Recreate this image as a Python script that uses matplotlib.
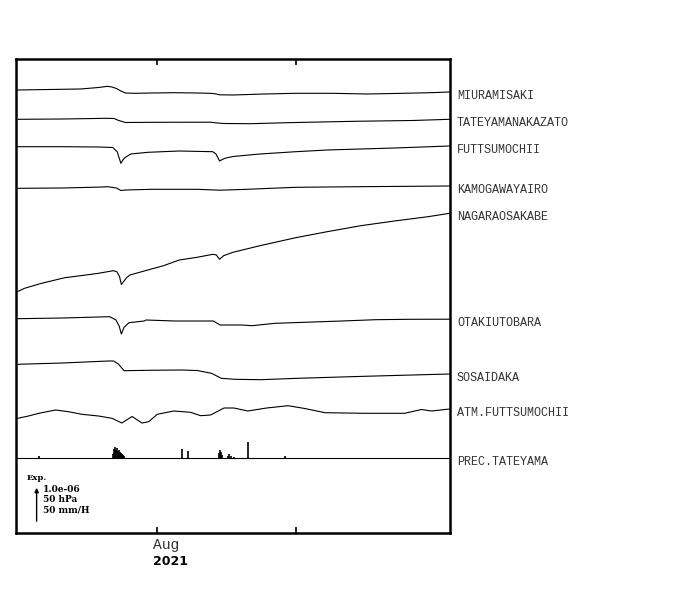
import matplotlib
matplotlib.use("Agg")
import matplotlib.pyplot as plt
import matplotlib.transforms as mtransforms

# days since 2021-07-01, values in plot units (upward positive, relative to start)
miura_t = [0, 7, 14, 18, 20, 21, 22, 23, 24, 26, 30, 35, 40, 43, 44, 45, 48, 55, 62, 70, 78, 86, 92, 96.3]
miura_v = [0, 0.5, 1, 2.5, 3.7, 3, 1.5, -1, -3, -3.3, -3, -2.7, -3, -3.3, -3.8, -4.8, -5, -4, -3.3, -3.3, -4, -3.3, -2.7, -2]

tate_t = [0, 10, 20, 21.5, 22.5, 24, 30, 43, 44.5, 46, 52, 60, 75, 88, 96.3]
tate_v = [0, 0.3, 1, 0.8, -1.2, -3.2, -3, -2.9, -3.7, -4.2, -4.4, -3.4, -2, -1.2, 0]

futt_t = [0, 10, 18, 21.2, 22.2, 22.6, 23.0, 23.5, 24.0, 25.2, 29, 36, 43.5, 44.2, 45.0, 45.6, 46.2, 48, 54, 62, 69, 76.5, 84, 96.3]
futt_v = [0, 0, -0.3, -0.8, -5.3, -11.3, -16.6, -12.8, -10.6, -7.3, -5.6, -4.3, -5, -7.3, -14.3, -12.8, -11.6, -9.8, -7.3, -5, -3.3, -2.3, -1.3, 0.7]

kamo_t = [0, 10, 19, 20, 22, 23, 24, 30, 40, 45, 50, 62, 76, 96.3]
kamo_v = [0, 0.3, 1.3, 1.6, 0.3, -2.2, -1.7, -1, -1, -1.9, -1.2, 1, 1.6, 2.3]

naga_t = [0, 1.5, 5.3, 10.5, 14, 18, 21.3, 22.1, 22.7, 23.1, 23.7, 24.3, 25, 29, 32.5, 36, 40, 43.5, 44.3, 45, 45.9, 48, 54, 62, 69, 76.5, 84, 91.5, 96.3]
naga_v = [0, 3.2, 8.2, 13.8, 15.8, 18.2, 20.8, 19.8, 14.8, 7, 10.5, 14, 16.5, 21.5, 25.8, 31.5, 34.2, 37.2, 36.5, 32.2, 35.8, 39.2, 45.8, 53.8, 59.8, 65.8, 70.5, 74.8, 78.2]

otak_t = [0, 10, 20.5, 21.9, 22.6, 23.1, 23.7, 24.8, 28.2, 28.6, 35, 43.6, 45.1, 50, 52.2, 57.4, 72.3, 79.8, 87.2, 96.3]
otak_v = [0, 0.7, 2, -1.3, -7.3, -15.3, -8.6, -4, -2.3, -1.3, -2.3, -2.3, -6.3, -6.3, -7, -4.6, -2.3, -1, -0.6, -0.5]

sosa_t = [0, 10, 20.2, 21.4, 22.5, 23.7, 29, 36.5, 40, 43.2, 45.4, 48.4, 54.2, 62.4, 77.3, 96.3]
sosa_v = [0, 1.3, 3.3, 3.3, 0, -6.4, -6, -5.7, -6.2, -9, -14, -15, -15.4, -14, -12, -9.7]

atm_t = [0, 2.4, 4.7, 8.4, 11.3, 14.3, 18, 21, 23.2, 25.5, 27.7, 29.2, 31.1, 34.8, 38.5, 40.8, 43, 46, 48.2, 51.3, 55.5, 60.3, 64, 68.5, 77.4, 86.3, 90, 92.3, 96.3]
atm_v = [0, 2.3, 5, 8.3, 6.6, 4, 2.3, 0, -4.7, 1.8, -4.7, -3.4, 4, 7.3, 6, 2.6, 3.3, 10.3, 10.3, 7.3, 10.3, 12.6, 9.8, 5.6, 5, 5, 8.8, 7.3, 9.3]

prec_t = [4.7, 21.2, 21.4, 21.6, 21.9, 22.1, 22.3, 22.5, 22.7, 23.0, 23.2, 23.4, 23.6,
          36.6, 37.9, 44.8, 45.0, 45.3, 45.5, 46.8, 47.1, 47.5, 48.2, 51.4, 59.5]
prec_v = [2, 4, 9, 11, 8, 10, 7, 8, 6, 5, 4, 3, 2,
          9, 7, 5, 8, 6, 3, 2, 4, 2, 1, 16, 2]

names = ["MIURAMISAKI", "TATEYAMANAKAZATO", "FUTTSUMOCHII", "KAMOGAWAYAIRO",
         "NAGARAOSAKABE", "OTAKIUTOBARA", "SOSAIDAKA", "ATM.FUTTSUMOCHII"]
series = [(miura_t, miura_v), (tate_t, tate_v), (futt_t, futt_v), (kamo_t, kamo_v),
          (naga_t, naga_v), (otak_t, otak_v), (sosa_t, sosa_v), (atm_t, atm_v)]
offsets = [443, 413.7, 386.3, 344.7, 241.5, 214.3, 168.7, 114.7]
prec_base = 75

fig = plt.figure(figsize=(7, 5.9), dpi=100)
ax = fig.add_axes([16 / 700, 57 / 590, 434 / 700, 474 / 590])

trans = mtransforms.blended_transform_factory(ax.transAxes, ax.transData)
mono = "Liberation Mono"
lab_col = "#333333"

for name, (t, v), off in zip(names, series, offsets):
    ax.plot(t, [off + x for x in v], color="black", lw=0.8)
    ax.text(1.016, off + v[-1] - 4, name, transform=trans, va="center", ha="left",
            family=mono, fontsize=8.5, color=lab_col, clip_on=False)

ax.axhline(prec_base, color="black", lw=0.8)
ax.vlines(prec_t, prec_base, [prec_base + p for p in prec_v], color="black", lw=1.2)
ax.text(1.016, prec_base - 4, "PREC.TATEYAMA", transform=trans, va="center", ha="left",
        family=mono, fontsize=8.5, color=lab_col, clip_on=False)

# scale
ax.text(1.9, 55, "Exp.", family="DejaVu Serif", fontweight="bold", fontsize=6, va="center")
ax.annotate("", xy=(4.2, 48), xytext=(4.2, 9),
            arrowprops=dict(arrowstyle="-|>", color="black", lw=1, mutation_scale=6))
for yy, s in zip([43, 33, 23], ["1.0e-06", "50 hPa", "50 mm/H"]):
    ax.text(5.6, yy, s, family="DejaVu Serif", fontweight="bold", fontsize=6.5, va="center")

ax.set_xlim(-0.4, 96.4)
ax.set_ylim(0, 474)
ax.set_xticks([31, 62])
ax.set_xticklabels(["", ""])
ax.set_yticks([])
ax.tick_params(axis="x", direction="in", top=True, length=4, width=1.2)
for sp in ax.spines.values():
    sp.set_linewidth(1.8)

xt = mtransforms.blended_transform_factory(ax.transData, ax.transAxes)
ax.text(30.1, -0.025, "Aug", transform=xt, family=mono, fontsize=10.5,
        color=lab_col, ha="left", va="center")
ax.text(30.1, -0.061, "2021", transform=xt, fontweight="bold", fontsize=9,
        ha="left", va="center")

fig.savefig("out.png", dpi=100)
